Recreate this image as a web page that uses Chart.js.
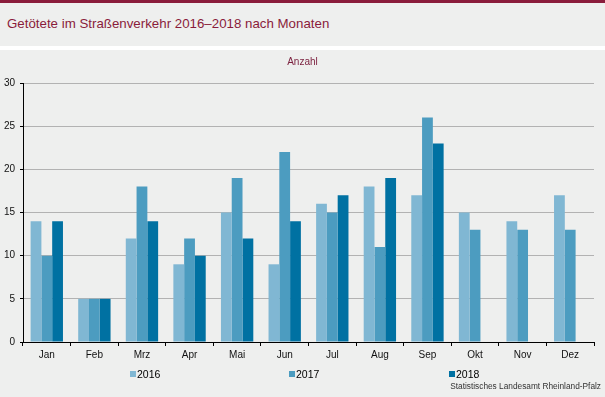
<!DOCTYPE html>
<html lang="de">
<head>
    <meta charset="UTF-8">
    <title>Getötete im Straßenverkehr 2016–2018 nach Monaten</title>
    <script src="https://cdn.jsdelivr.net/npm/chart.js"></script>
    <style>
        body {
            margin: 0;
            width: 605px;
            height: 397px;
            background: #eeefee;
            font-family: "Liberation Sans", Arial, sans-serif;
            position: relative;
            overflow: hidden;
        }
        .top-border {
            position: absolute; left: 0; top: 0; width: 605px; height: 3px;
            background: #8a1c3b;
        }
        .title {
            position: absolute; left: 7px; top: 16px;
            font-size: 13.3px; line-height: 15px;
            color: #8a1c3b;
            white-space: nowrap;
        }
        .gap {
            position: absolute; left: 0; top: 46px; width: 605px; height: 4px;
            background: #ffffff;
        }
        .chart-box {
            position: absolute; left: 0; top: 50px; width: 605px; height: 347px;
        }
        .unit {
            position: absolute; left: 0; width: 605px; top: 56px;
            text-align: center; font-size: 10px; line-height: 12px;
            color: #7a1f3d;
        }
        .legend-item {
            position: absolute; top: 368px;
            font-size: 10.5px; line-height: 12px; color: #000;
            white-space: nowrap;
        }
        .legend-item span {
            display: inline-block; width: 6px; height: 6px;
            margin-right: 1px; vertical-align: 1px;
        }
        .source {
            position: absolute; right: 4px; top: 381px;
            font-size: 8.3px; line-height: 10px; color: #333;
        }
    </style>
</head>
<body>
    <div class="top-border"></div>
    <div class="title">Getötete im Straßenverkehr 2016–2018 nach Monaten</div>
    <div class="gap"></div>
    <div class="chart-box"><canvas id="chart" width="605" height="347"></canvas></div>
    <div class="unit">Anzahl</div>
    <div id="legend"></div>
    <div class="source">Statistisches Landesamt Rheinland-Pfalz</div>

    <script>
        const months = ['Jan', 'Feb', 'Mrz', 'Apr', 'Mai', 'Jun', 'Jul', 'Aug', 'Sep', 'Okt', 'Nov', 'Dez'];
        const years = ['2016', '2017', '2018'];
        const deaths2016 = [14, 5, 12, 9, 15, 9, 16, 18, 17, 15, 14, 17];
        const deaths2017 = [10, 5, 18, 12, 19, 22, 15, 11, 26, 13, 13, 13];
        const deaths2018 = [14, 5, 14, 10, 12, 14, 17, 19, 23, null, null, null];
        const yTicks = [0, 5, 10, 15, 20, 25, 30];

        const colors = ['#80b7d3', '#4c9cc0', '#0071a2'];
        const legendLeft = [130, 289, 449];

        // HTML-Legende, weil die Abstände sehr breit sind
        document.getElementById('legend').innerHTML = years
            .map((y, i) => `<div class="legend-item" style="left:${legendLeft[i]}px"><span style="background:${colors[i]}"></span>${y}</div>`)
            .join('');

        Chart.defaults.font.family = '"Liberation Sans", Arial, sans-serif';
        Chart.defaults.font.size = 10;
        Chart.defaults.color = '#111';

        new Chart(document.getElementById('chart'), {
            type: 'bar',
            data: {
                labels: months,
                datasets: [deaths2016, deaths2017, deaths2018].map((d, i) => ({
                    label: years[i],
                    data: d,
                    backgroundColor: colors[i],
                    borderWidth: 0,
                    categoryPercentage: 0.68,
                    barPercentage: 1.0
                }))
            },
            options: {
                responsive: false,
                animation: false,
                layout: { padding: { top: 33, right: 11, left: 0, bottom: 0 } },
                plugins: {
                    legend: { display: false },
                    tooltip: { enabled: false }
                },
                scales: {
                    x: {
                        afterFit: scale => { scale.height = 55; },
                        grid: {
                            drawOnChartArea: false,
                            tickColor: '#000',
                            tickLength: 4
                        },
                        border: { color: '#000', width: 1 },
                        ticks: { padding: 3, color: '#111' }
                    },
                    y: {
                        min: 0,
                        max: 30,
                        afterFit: scale => { scale.width = 23; },
                        afterBuildTicks: scale => { scale.ticks = yTicks.map(v => ({ value: v })); },
                        grid: {
                            color: ctx => ctx.tick && ctx.tick.value === 0 ? 'rgba(0,0,0,0)' : '#b2b2b2',
                            tickColor: '#000',
                            tickLength: 3
                        },
                        border: { color: '#000', width: 1 },
                        ticks: { padding: 5, color: '#111' }
                    }
                }
            }
        });
    </script>
</body>
</html>
